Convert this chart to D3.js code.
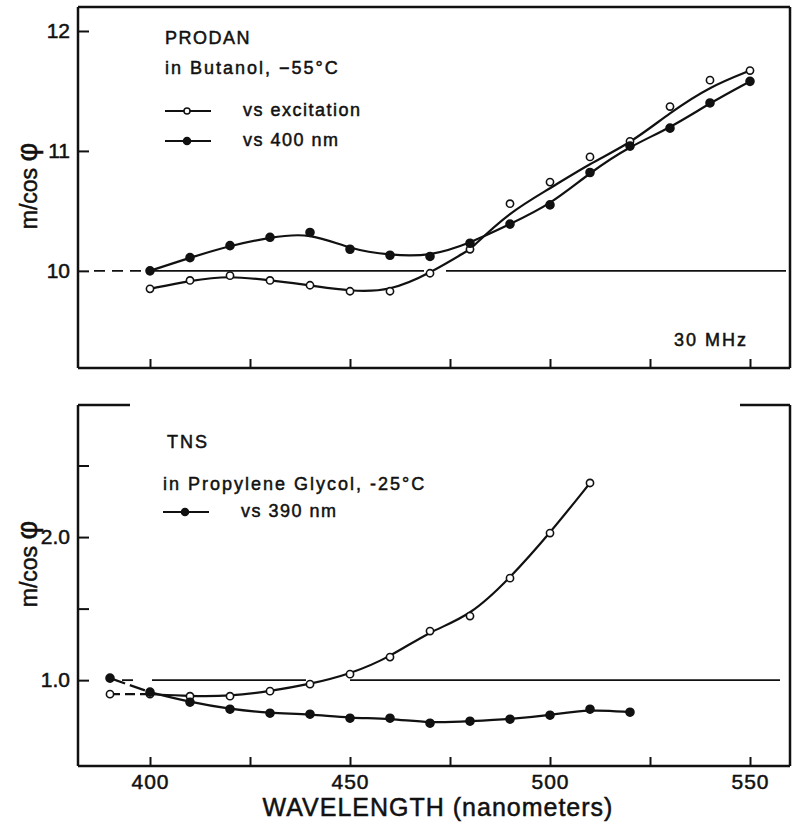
<!DOCTYPE html>
<html>
<head>
<meta charset="utf-8">
<script src="https://cdn.jsdelivr.net/npm/d3@7"></script>
<style>
  body { margin: 0; background: #fff; }
  svg { display: block; font-family: "Liberation Sans", Arial, sans-serif; }
  svg text { fill: #111; stroke: #111; stroke-width: 0.5px; }
  .domain { display: none; }
</style>
</head>
<body>
<svg id="chart" width="800" height="828"></svg>
<script>
// wavelengths (nm)
const wlTop = [400, 410, 420, 430, 440, 450, 460, 470, 480, 490, 500, 510, 520, 530, 540, 550];
// PRODAN in butanol, m/cos phi
const prodanExc = [0.985, 0.992, 0.996, 0.992, 0.988, 0.983, 0.983, 0.998, 1.018, 1.056, 1.074, 1.095, 1.108, 1.137, 1.159, 1.167];
const prodan400 = [1.000, 1.011, 1.021, 1.028, 1.032, 1.018, 1.013, 1.012, 1.023, 1.039, 1.055, 1.082, 1.104, 1.119, 1.140, 1.158];

// TNS in propylene glycol
const wlTnsExc = [390, 400, 410, 420, 430, 440, 450, 460, 470, 480, 490, 500, 510];
const tnsExc = [0.902, 0.902, 0.888, 0.888, 0.923, 0.972, 1.042, 1.161, 1.343, 1.448, 1.713, 2.028, 2.378];
const wlTns390 = [390, 400, 410, 420, 430, 440, 450, 460, 470, 480, 490, 500, 510, 520];
const tns390 = [1.014, 0.916, 0.846, 0.797, 0.769, 0.762, 0.734, 0.734, 0.699, 0.713, 0.727, 0.755, 0.797, 0.776];

const xTicks = [400, 425, 450, 475, 500, 525, 550];
const xTickLabels = ["400", "", "450", "", "500", "", "550"];
const yTopTicks = [1.0, 1.1, 1.2];
const yTopLabels = ["10", "11", "12"];
const yBotTicks = [1.0, 1.5, 2.0, 2.5];
const yBotLabels = ["1.0", "", "2.0", ""];

const svg = d3.select("#chart");

const x = d3.scaleLinear().domain([382, 560]).range([78, 790]);
const yTop = d3.scaleLinear().domain([0.919, 1.22]).range([368, 7]);
const yBot = d3.scaleLinear().domain([0.4, 2.923]).range([766, 405]);

const ink = "#111";

function pts(xs, ys) { return xs.map((d, i) => [d, ys[i]]); }

function drawPanel(y, ticks, labels, showXLabels) {
  const g = svg.append("g");
  g.append("g")
    .attr("transform", `translate(${x.range()[0]},0)`)
    .call(d3.axisLeft(y).tickValues(ticks).tickSize(-11).tickPadding(6)
      .tickFormat((d, i) => labels[i]))
    .call(a => a.selectAll("text").attr("font-size", 21).attr("dx", "-2"))
    .call(a => a.selectAll("line").attr("stroke", ink).attr("stroke-width", 2));
  g.append("g")
    .attr("transform", `translate(0,${y.range()[0]})`)
    .call(d3.axisBottom(x).tickValues(xTicks).tickSize(-9).tickPadding(8)
      .tickFormat((d, i) => showXLabels ? xTickLabels[i] : ""))
    .call(a => a.selectAll("text").attr("font-size", 21).attr("letter-spacing", 1))
    .call(a => a.selectAll("line").attr("stroke", ink).attr("stroke-width", 2));
  return g;
}

function frame(y, topStubs) {
  const [x0, x1] = x.range();
  const [yb, yt] = y.range();
  const line = (a, b, c, d) => svg.append("line")
    .attr("x1", a).attr("y1", b).attr("x2", c).attr("y2", d)
    .attr("stroke", ink).attr("stroke-width", 2.5);
  line(x0, yt, x0, yb);
  line(x0, yb, x1, yb);
  line(x1, yt, x1, yb);
  if (topStubs) topStubs.forEach(s => line(x(s[0]), yt, x(s[1]), yt));
  else line(x0, yt, x1, yt);
}

function refLine(y, dashed, solid) {
  dashed.forEach(s => svg.append("line")
    .attr("x1", x(s[0])).attr("x2", x(s[1])).attr("y1", y(1)).attr("y2", y(1))
    .attr("stroke", ink).attr("stroke-width", 1.8).attr("stroke-dasharray", "11,7"));
  solid.forEach(s => svg.append("line")
    .attr("x1", x(s[0])).attr("x2", x(s[1])).attr("y1", y(1)).attr("y2", y(1))
    .attr("stroke", ink).attr("stroke-width", 1.8));
}

function curve(y, data, dash, beta) {
  const c = beta ? d3.curveBundle.beta(beta) : d3.curveBasis;
  svg.append("path")
    .datum(data)
    .attr("fill", "none")
    .attr("stroke", ink)
    .attr("stroke-width", 2.2)
    .attr("stroke-dasharray", dash || null)
    .attr("d", d3.line().x(d => x(d[0])).y(d => y(d[1])).curve(c));
}

function markers(y, data, open) {
  svg.append("g").selectAll("circle")
    .data(data)
    .join("circle")
    .attr("cx", d => x(d[0]))
    .attr("cy", d => y(d[1]))
    .attr("r", open ? 3.6 : 4)
    .attr("fill", open ? "#fff" : ink)
    .attr("stroke", ink)
    .attr("stroke-width", 1.6);
}

function yLabel(cy) {
  const t = svg.append("text")
    .attr("transform", `translate(37,${cy}) rotate(-90)`)
    .attr("text-anchor", "middle")
    .attr("font-size", 23);
  t.append("tspan").text("m/cos ");
  t.append("tspan").attr("font-size", 29).text("φ");
}

function label(xl, yl, txt, spacing) {
  svg.append("text").attr("x", xl).attr("y", yl).attr("font-size", 18)
    .attr("letter-spacing", spacing).text(txt);
}

function legendRow(xl, yl, open, txt) {
  svg.append("line").attr("x1", xl).attr("x2", xl + 46).attr("y1", yl).attr("y2", yl)
    .attr("stroke", ink).attr("stroke-width", 2);
  svg.append("circle").attr("cx", xl + 22).attr("cy", yl).attr("r", open ? 3 : 3.5)
    .attr("fill", open ? "#fff" : ink).attr("stroke", ink).attr("stroke-width", 1.5);
  label(xl + 78, yl + 5, txt, 1.5);
}

// ---- top panel: PRODAN
drawPanel(yTop, yTopTicks, yTopLabels, false);
frame(yTop, null);
refLine(yTop, [[386, 399]], [[400, 468.5], [474, 559]]);
const pExc = pts(wlTop, prodanExc);
const p400 = pts(wlTop, prodan400);
curve(yTop, pExc.slice(0, 9));
curve(yTop, pExc.slice(8), null, 0.6);
curve(yTop, p400);
markers(yTop, pExc, true);
markers(yTop, p400, false);
yLabel(186);

label(165, 44, "PRODAN", 1.5);
label(165, 74, "in Butanol, \u221255°C", 2);
legendRow(165, 111, true, "vs  excitation");
legendRow(165, 141, false, "vs  400 nm");
svg.append("text").attr("x", 748).attr("y", 346).attr("text-anchor", "end")
  .attr("font-size", 18).attr("letter-spacing", 2).text("30 MHz");

// ---- bottom panel: TNS
drawPanel(yBot, yBotTicks, yBotLabels, true);
frame(yBot, [[382, 395], [547.5, 560]]);
refLine(yBot, [[393, 396.5]], [[400.5, 439], [450, 557.5]]);
const tExc = pts(wlTnsExc, tnsExc);
const t390 = pts(wlTns390, tns390);
curve(yBot, tExc.slice(0, 2), "10,5");
curve(yBot, t390.slice(0, 2), "16,5");
curve(yBot, tExc.slice(1));
curve(yBot, t390.slice(1));
markers(yBot, tExc, true);
markers(yBot, t390, false);
yLabel(564);

label(167, 448, "TNS", 2);
label(163, 490, "in Propylene  Glycol, -25°C", 2);
legendRow(163, 512, false, "vs  390 nm");

svg.append("text")
  .attr("x", 438).attr("y", 816)
  .attr("text-anchor", "middle")
  .attr("font-size", 25)
  .attr("letter-spacing", 1)
  .text("WAVELENGTH (nanometers)");
</script>
</body>
</html>
